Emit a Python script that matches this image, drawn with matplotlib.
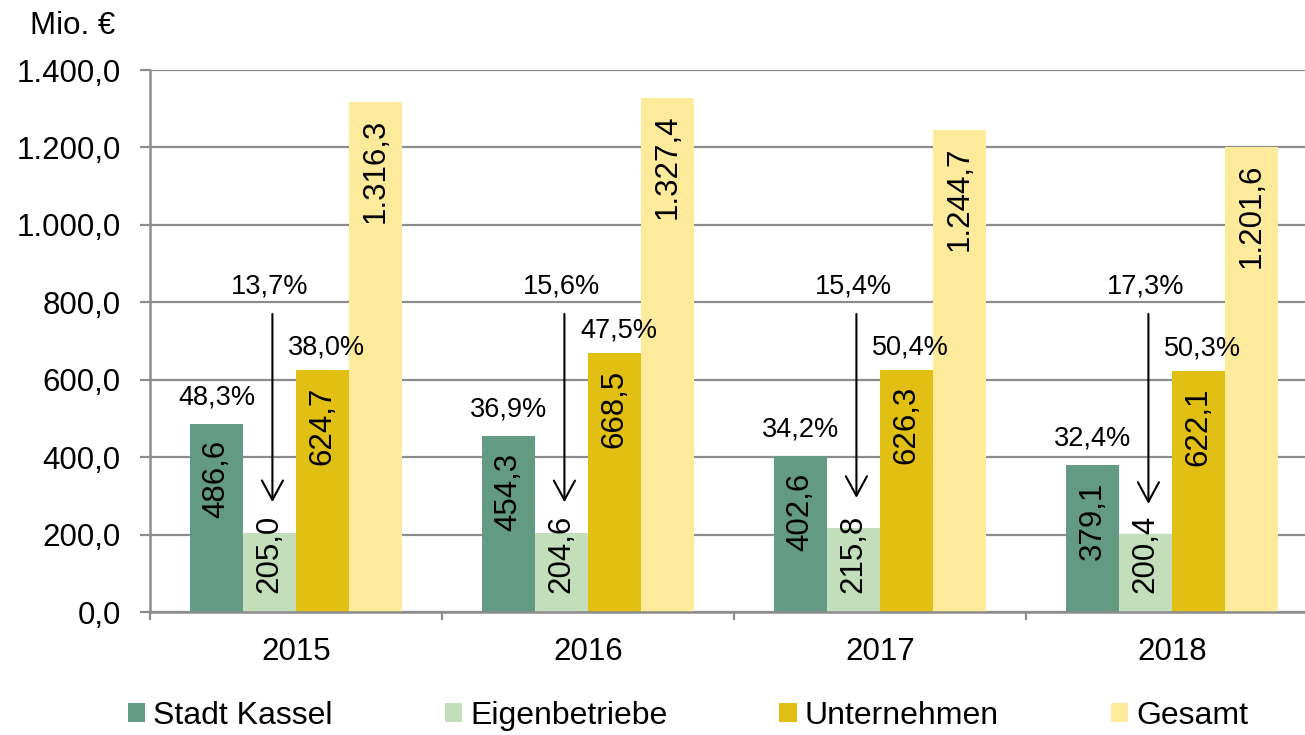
import matplotlib
matplotlib.use('Agg')
import matplotlib.pyplot as plt
import numpy as np

plt.rcParams['font.family'] = ['Liberation Sans', 'DejaVu Sans']

# Werte in Mio. Euro
jahre = ['2015', '2016', '2017', '2018']
stadt_kassel = [486.6, 454.3, 402.6, 379.1]
eigenbetriebe = [205.0, 204.6, 215.8, 200.4]
unternehmen = [624.7, 668.5, 626.3, 622.1]
gesamt = [1316.3, 1327.4, 1244.7, 1201.6]
# Anteile in %
anteil_stadt = [48.3, 36.9, 34.2, 32.4]
anteil_eigen = [13.7, 15.6, 15.4, 17.3]
anteil_unter = [38.0, 47.5, 50.4, 50.3]


def de(v, nd=1):
    s = f"{v:,.{nd}f}"
    return s.replace(',', 'X').replace('.', ',').replace('X', '.')


grau = '#8c8c8c'
W, H = 1305, 735
fig = plt.figure(figsize=(W / 100, H / 100), dpi=100)
ax = fig.add_axes([150 / W, 123 / H, 1168 / W, 542 / H])

x = np.arange(len(jahre))
w = 0.1815
serien = [
    ('Stadt Kassel', stadt_kassel, '#639a84'),
    ('Eigenbetriebe', eigenbetriebe, '#c3deba'),
    ('Unternehmen', unternehmen, '#e2c013'),
    ('Gesamt', gesamt, '#fdea9a'),
]

for k, (name, werte, farbe) in enumerate(serien):
    pos = x + (k - 1.5) * w
    ax.bar(pos, werte, w, color=farbe, label=name, zorder=2)
    for xi, v in zip(pos, werte):
        if v < 300:
            # passt nicht unter die Oberkante -> am Boden
            ax.annotate(de(v), (xi, 0), xytext=(0, 13.5), textcoords='offset points',
                        rotation=90, ha='center', va='bottom', fontsize=22.5, zorder=4)
        else:
            ax.annotate(de(v), (xi, v), xytext=(0, -12), textcoords='offset points',
                        rotation=90, ha='center', va='top', fontsize=22.5, zorder=4)

# Prozentwerte
for i in range(len(jahre)):
    xs = x[i] - 1.5 * w
    ax.annotate(de(anteil_stadt[i]) + '%', (xs, stadt_kassel[i]), xytext=(0, 19),
                textcoords='offset points', ha='center', va='center', fontsize=19.5, zorder=5)
    xu = x[i] + 0.5 * w
    ax.annotate(de(anteil_unter[i]) + '%', (xu, unternehmen[i]), xytext=(3, 16),
                textcoords='offset points', ha='center', va='center', fontsize=19.5, zorder=5)
    xe = x[i] - 0.5 * w
    ax.text(xe, 842, de(anteil_eigen[i]) + '%', ha='center', va='center', fontsize=19.5, zorder=5)
    ax.annotate('', xy=(xe + 0.01, eigenbetriebe[i]), xytext=(xe + 0.01, 770),
                arrowprops=dict(arrowstyle='->,head_length=0.7,head_width=0.38',
                                color='black', lw=1.5, mutation_scale=20,
                                shrinkA=0, shrinkB=22),
                zorder=5)

ax.set_xlim(-0.5, 3.5)
ax.set_ylim(0, 1400)
ax.set_yticks(np.arange(0, 1401, 200))
ax.set_yticklabels([de(t) for t in np.arange(0, 1401, 200)])
ax.set_xticks(x)
ax.set_xticklabels(jahre)
ax.set_xticks(np.arange(-0.5, 4, 1), minor=True)

ax.set_axisbelow(True)
ax.grid(axis='y', color=grau, lw=1.6, zorder=0)
for s in ['top', 'right']:
    ax.spines[s].set_visible(False)
for s in ['left', 'bottom']:
    ax.spines[s].set_color(grau)
    ax.spines[s].set_linewidth(1.8)

ax.tick_params(axis='y', length=7, width=1.6, color=grau, pad=14, labelsize=22.5)
ax.tick_params(axis='x', which='major', length=0, pad=18, labelsize=22.5)
ax.tick_params(axis='x', which='minor', length=6, width=1.6, color=grau)

fig.text(30 / W, 1 - 26 / H, 'Mio. €', fontsize=22.5, va='center', ha='left')

fig.legend(loc='center', bbox_to_anchor=(688 / W, 1 - 716 / H), ncol=4, frameon=False,
           fontsize=23, handlelength=0.55, handleheight=0.55, handletextpad=0.25,
           columnspacing=3.5, borderpad=0)

fig.savefig('out.png', dpi=100)
